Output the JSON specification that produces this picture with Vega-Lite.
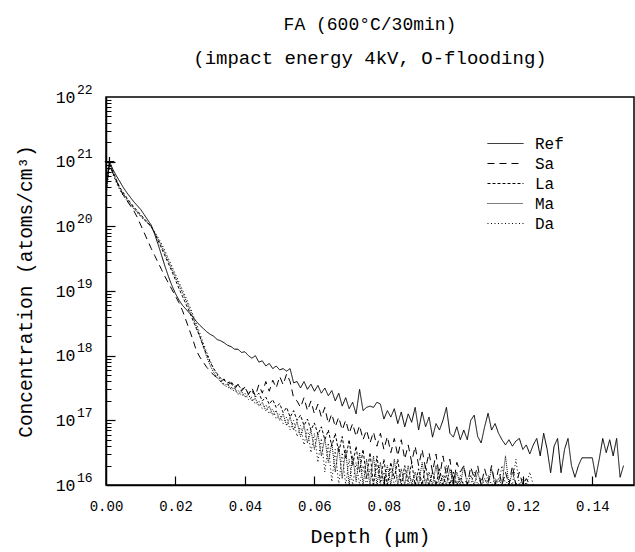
{
"$schema": "https://vega.github.io/schema/vega-lite/v6.json",
"width": 528, "height": 388,
"autosize": {"type": "none"},
"padding": {"left": 106, "top": 97, "right": 1, "bottom": 67},
"background": "white",
"title": {"text": "FA (600°C/30min)", "subtitle": "(impact energy 4kV, O-flooding)", "font": "Liberation Mono", "fontSize": 18, "fontWeight": "normal", "color": "black", "subtitleFont": "Liberation Mono", "subtitleFontSize": 19, "subtitleColor": "black", "subtitlePadding": 15, "offset": 15, "anchor": "middle"},
"config": {"view": {"stroke": "black", "strokeWidth": 1.5}, "font": "Liberation Mono"},
"data": {"values": [
{"d":0.000,"Ref":20.65,"Sa":20.65,"La":20.55,"Ma":20.5,"Da":20.45},
{"d":0.001,"Ref":21.0,"Sa":20.95,"La":20.98,"Ma":20.96,"Da":20.94},
{"d":0.002,"Ref":20.88,"Sa":20.82,"La":20.85,"Ma":20.83,"Da":20.8},
{"d":0.003,"Ref":20.78,"Sa":20.7,"La":20.72,"Ma":20.7,"Da":20.67},
{"d":0.004,"Ref":20.69,"Sa":20.58,"La":20.6,"Ma":20.58,"Da":20.56},
{"d":0.005,"Ref":20.6,"Sa":20.48,"La":20.52,"Ma":20.5,"Da":20.47},
{"d":0.006,"Ref":20.52,"Sa":20.4,"La":20.44,"Ma":20.42,"Da":20.4},
{"d":0.007,"Ref":20.45,"Sa":20.32,"La":20.37,"Ma":20.35,"Da":20.33},
{"d":0.008,"Ref":20.38,"Sa":20.24,"La":20.3,"Ma":20.28,"Da":20.27},
{"d":0.009,"Ref":20.32,"Sa":20.14,"La":20.24,"Ma":20.22,"Da":20.21},
{"d":0.010,"Ref":20.26,"Sa":20.02,"La":20.18,"Ma":20.16,"Da":20.15},
{"d":0.011,"Ref":20.18,"Sa":19.9,"La":20.12,"Ma":20.1,"Da":20.1},
{"d":0.012,"Ref":20.1,"Sa":19.78,"La":20.06,"Ma":20.05,"Da":20.05},
{"d":0.013,"Ref":20.02,"Sa":19.66,"La":20.0,"Ma":19.99,"Da":20.0},
{"d":0.014,"Ref":19.88,"Sa":19.55,"La":19.9,"Ma":19.9,"Da":19.92},
{"d":0.015,"Ref":19.72,"Sa":19.44,"La":19.78,"Ma":19.8,"Da":19.83},
{"d":0.016,"Ref":19.55,"Sa":19.33,"La":19.66,"Ma":19.7,"Da":19.73},
{"d":0.017,"Ref":19.38,"Sa":19.22,"La":19.54,"Ma":19.58,"Da":19.62},
{"d":0.018,"Ref":19.22,"Sa":19.12,"La":19.42,"Ma":19.46,"Da":19.5},
{"d":0.019,"Ref":19.08,"Sa":19.02,"La":19.3,"Ma":19.34,"Da":19.38},
{"d":0.020,"Ref":18.96,"Sa":18.92,"La":19.17,"Ma":19.22,"Da":19.26},
{"d":0.021,"Ref":18.86,"Sa":18.82,"La":19.04,"Ma":19.1,"Da":19.14},
{"d":0.022,"Ref":18.78,"Sa":18.7,"La":18.92,"Ma":18.98,"Da":19.02},
{"d":0.023,"Ref":18.72,"Sa":18.55,"La":18.8,"Ma":18.86,"Da":18.9},
{"d":0.024,"Ref":18.66,"Sa":18.4,"La":18.68,"Ma":18.73,"Da":18.78},
{"d":0.025,"Ref":18.6,"Sa":18.25,"La":18.55,"Ma":18.6,"Da":18.64},
{"d":0.026,"Ref":18.53,"Sa":18.08,"La":18.42,"Ma":18.45,"Da":18.5},
{"d":0.027,"Ref":18.47,"Sa":17.98,"La":18.3,"Ma":18.3,"Da":18.35},
{"d":0.028,"Ref":18.42,"Sa":17.9,"La":18.15,"Ma":18.14,"Da":18.2},
{"d":0.029,"Ref":18.37,"Sa":17.82,"La":18.02,"Ma":17.98,"Da":18.05},
{"d":0.030,"Ref":18.33,"Sa":17.76,"La":17.9,"Ma":17.85,"Da":17.92},
{"d":0.031,"Ref":18.3,"Sa":17.7,"La":17.8,"Ma":17.74,"Da":17.8},
{"d":0.032,"Ref":18.25,"Sa":17.66,"La":17.72,"Ma":17.66,"Da":17.7},
{"d":0.033,"Ref":18.23,"Sa":17.6,"La":17.65,"Ma":17.6,"Da":17.62},
{"d":0.034,"Ref":18.2,"Sa":17.64,"La":17.62,"Ma":17.54,"Da":17.56},
{"d":0.035,"Ref":18.16,"Sa":17.55,"La":17.58,"Ma":17.56,"Da":17.5},
{"d":0.036,"Ref":18.14,"Sa":17.58,"La":17.6,"Ma":17.48,"Da":17.52},
{"d":0.037,"Ref":18.1,"Sa":17.48,"La":17.52,"Ma":17.5,"Da":17.44},
{"d":0.038,"Ref":18.1,"Sa":17.56,"La":17.55,"Ma":17.4,"Da":17.47},
{"d":0.039,"Ref":18.05,"Sa":17.45,"La":17.48,"Ma":17.45,"Da":17.38},
{"d":0.040,"Ref":18.06,"Sa":17.52,"La":17.5,"Ma":17.36,"Da":17.42},
{"d":0.041,"Ref":18.0,"Sa":17.4,"La":17.42,"Ma":17.4,"Da":17.32},
{"d":0.042,"Ref":17.96,"Sa":17.5,"La":17.46,"Ma":17.3,"Da":17.36},
{"d":0.043,"Ref":18.0,"Sa":17.38,"La":17.36,"Ma":17.34,"Da":17.25},
{"d":0.044,"Ref":17.9,"Sa":17.55,"La":17.42,"Ma":17.22,"Da":17.3},
{"d":0.045,"Ref":17.92,"Sa":17.42,"La":17.3,"Ma":17.28,"Da":17.18},
{"d":0.046,"Ref":17.84,"Sa":17.6,"La":17.36,"Ma":17.15,"Da":17.24},
{"d":0.047,"Ref":17.88,"Sa":17.45,"La":17.25,"Ma":17.22,"Da":17.1},
{"d":0.048,"Ref":17.8,"Sa":17.62,"La":17.32,"Ma":17.08,"Da":17.18},
{"d":0.049,"Ref":17.84,"Sa":17.5,"La":17.2,"Ma":17.15,"Da":17.02},
{"d":0.050,"Ref":17.78,"Sa":17.68,"La":17.26,"Ma":17.0,"Da":17.1},
{"d":0.051,"Ref":17.8,"Sa":17.55,"La":17.12,"Ma":17.1,"Da":16.95},
{"d":0.052,"Ref":17.76,"Sa":17.72,"La":17.2,"Ma":16.92,"Da":17.05},
{"d":0.053,"Ref":17.8,"Sa":17.6,"La":17.05,"Ma":17.05,"Da":16.85},
{"d":0.054,"Ref":17.58,"Sa":17.35,"La":17.15,"Ma":16.85,"Da":17.0},
{"d":0.055,"Ref":17.6,"Sa":17.3,"La":17.0,"Ma":16.98,"Da":16.75},
{"d":0.056,"Ref":17.5,"Sa":17.2,"La":17.08,"Ma":16.75,"Da":16.92},
{"d":0.057,"Ref":17.6,"Sa":17.35,"La":16.92,"Ma":16.92,"Da":16.62},
{"d":0.058,"Ref":17.48,"Sa":17.15,"La":17.02,"Ma":16.65,"Da":16.88},
{"d":0.059,"Ref":17.56,"Sa":17.3,"La":16.85,"Ma":16.85,"Da":16.5},
{"d":0.060,"Ref":17.45,"Sa":17.1,"La":16.96,"Ma":16.55,"Da":16.8},
{"d":0.061,"Ref":17.54,"Sa":17.25,"La":16.78,"Ma":16.8,"Da":16.35},
{"d":0.062,"Ref":17.42,"Sa":17.05,"La":16.9,"Ma":16.45,"Da":16.72},
{"d":0.063,"Ref":17.5,"Sa":17.2,"La":16.7,"Ma":16.72,"Da":16.2},
{"d":0.064,"Ref":17.38,"Sa":16.95,"La":16.85,"Ma":16.35,"Da":16.65},
{"d":0.065,"Ref":17.46,"Sa":17.1,"La":16.6,"Ma":16.65,"Da":16.05},
{"d":0.066,"Ref":17.3,"Sa":16.9,"La":16.8,"Ma":16.2,"Da":16.55},
{"d":0.067,"Ref":17.42,"Sa":17.05,"La":16.5,"Ma":16.6,"Da":16.0},
{"d":0.068,"Ref":17.22,"Sa":16.85,"La":16.75,"Ma":16.1,"Da":16.5},
{"d":0.069,"Ref":17.35,"Sa":17.0,"La":16.4,"Ma":16.55,"Da":16.0},
{"d":0.070,"Ref":17.18,"Sa":16.8,"La":16.7,"Ma":16.0,"Da":16.4},
{"d":0.071,"Ref":17.28,"Sa":16.95,"La":16.3,"Ma":16.45,"Da":16.0},
{"d":0.072,"Ref":17.1,"Sa":16.75,"La":16.6,"Ma":16.05,"Da":16.35},
{"d":0.073,"Ref":17.48,"Sa":16.92,"La":16.2,"Ma":16.5,"Da":16.0},
{"d":0.074,"Ref":17.15,"Sa":16.7,"La":16.55,"Ma":16.0,"Da":16.3},
{"d":0.075,"Ref":17.2,"Sa":16.85,"La":16.1,"Ma":16.4,"Da":16.0},
{"d":0.076,"Ref":17.22,"Sa":16.65,"La":16.5,"Ma":16.0,"Da":16.25},
{"d":0.077,"Ref":17.2,"Sa":16.82,"La":16.0,"Ma":16.45,"Da":16.0},
{"d":0.078,"Ref":17.28,"Sa":16.6,"La":16.45,"Ma":16.0,"Da":16.3},
{"d":0.079,"Ref":17.25,"Sa":16.8,"La":16.05,"Ma":16.35,"Da":16.0},
{"d":0.080,"Ref":17.02,"Sa":16.55,"La":16.4,"Ma":16.0,"Da":16.2},
{"d":0.081,"Ref":17.15,"Sa":16.75,"La":16.0,"Ma":16.3,"Da":16.0},
{"d":0.082,"Ref":17.05,"Sa":16.5,"La":16.35,"Ma":16.0,"Da":16.25},
{"d":0.083,"Ref":17.18,"Sa":16.72,"La":16.1,"Ma":16.4,"Da":16.0},
{"d":0.084,"Ref":16.95,"Sa":16.45,"La":16.4,"Ma":16.0,"Da":16.15},
{"d":0.085,"Ref":17.13,"Sa":16.7,"La":16.0,"Ma":16.25,"Da":16.0},
{"d":0.086,"Ref":16.9,"Sa":16.4,"La":16.3,"Ma":16.0,"Da":16.2},
{"d":0.087,"Ref":17.1,"Sa":16.62,"La":16.05,"Ma":16.3,"Da":16.0},
{"d":0.088,"Ref":16.97,"Sa":16.35,"La":16.35,"Ma":16.0,"Da":16.1},
{"d":0.089,"Ref":17.2,"Sa":16.6,"La":16.0,"Ma":16.2,"Da":16.0},
{"d":0.090,"Ref":16.85,"Sa":16.3,"La":16.25,"Ma":16.0,"Da":16.15},
{"d":0.091,"Ref":17.13,"Sa":16.55,"La":16.0,"Ma":16.35,"Da":16.0},
{"d":0.092,"Ref":16.9,"Sa":16.25,"La":16.3,"Ma":16.0,"Da":16.1},
{"d":0.093,"Ref":17.05,"Sa":16.5,"La":16.0,"Ma":16.2,"Da":16.0},
{"d":0.094,"Ref":16.74,"Sa":16.2,"La":16.2,"Ma":16.0,"Da":16.2},
{"d":0.095,"Ref":16.95,"Sa":16.48,"La":16.0,"Ma":16.3,"Da":16.0},
{"d":0.096,"Ref":16.85,"Sa":16.1,"La":16.25,"Ma":16.0,"Da":16.1},
{"d":0.097,"Ref":17.0,"Sa":16.45,"La":16.0,"Ma":16.15,"Da":16.0},
{"d":0.098,"Ref":17.2,"Sa":16.15,"La":16.15,"Ma":16.0,"Da":16.3},
{"d":0.099,"Ref":16.8,"Sa":16.4,"La":16.0,"Ma":16.25,"Da":16.0},
{"d":0.100,"Ref":16.74,"Sa":16.0,"La":16.2,"Ma":16.0,"Da":16.1},
{"d":0.101,"Ref":16.9,"Sa":16.35,"La":16.0,"Ma":16.2,"Da":16.0},
{"d":0.102,"Ref":16.7,"Sa":16.2,"La":16.1,"Ma":16.0,"Da":16.15},
{"d":0.103,"Ref":16.85,"Sa":16.3,"La":16.0,"Ma":16.3,"Da":16.0},
{"d":0.104,"Ref":16.7,"Sa":16.0,"Ma":16.0,"Da":16.1},
{"d":0.105,"Ref":17.0,"Sa":16.28,"Ma":16.15,"Da":16.0},
{"d":0.106,"Ref":17.08,"Sa":16.1,"Ma":16.0,"Da":16.2},
{"d":0.107,"Ref":16.75,"Sa":16.3,"Ma":16.2,"Da":16.0},
{"d":0.108,"Ref":16.65,"Sa":16.0,"Ma":16.0,"Da":16.1},
{"d":0.109,"Ref":16.9,"Sa":16.25,"Ma":16.1,"Da":16.0},
{"d":0.110,"Ref":17.11,"Sa":16.05,"Ma":16.0,"Da":16.15},
{"d":0.111,"Ref":16.85,"Sa":16.3,"Ma":16.25,"Da":16.0},
{"d":0.112,"Ref":16.95,"Sa":16.0,"Ma":16.0,"Da":16.1},
{"d":0.113,"Ref":16.8,"Sa":16.25,"Ma":16.1,"Da":16.0},
{"d":0.114,"Ref":16.7,"Sa":16.0,"Ma":16.0,"Da":16.3},
{"d":0.115,"Ref":16.62,"Sa":16.2,"Ma":16.45,"Da":16.0},
{"d":0.116,"Ref":16.7,"Sa":16.0,"Ma":16.0,"Da":16.1},
{"d":0.117,"Ref":16.6,"Sa":16.3,"Ma":16.2,"Da":16.0},
{"d":0.118,"Ref":16.68,"Sa":16.0,"Ma":16.0,"Da":16.4},
{"d":0.119,"Ref":16.72,"Sa":16.2,"Da":16.0},
{"d":0.120,"Ref":16.55,"Sa":16.0,"Da":16.1},
{"d":0.121,"Ref":16.62,"Sa":16.1,"Da":16.0},
{"d":0.122,"Ref":16.48,"Sa":16.0,"Da":16.2},
{"d":0.123,"Ref":16.62,"Da":16.0},
{"d":0.124,"Ref":16.72},
{"d":0.125,"Ref":16.45},
{"d":0.126,"Ref":16.8},
{"d":0.127,"Ref":16.55},
{"d":0.128,"Ref":16.19},
{"d":0.129,"Ref":16.6},
{"d":0.130,"Ref":16.72},
{"d":0.131,"Ref":16.19},
{"d":0.132,"Ref":16.55},
{"d":0.133,"Ref":16.72},
{"d":0.134,"Ref":16.3},
{"d":0.135,"Ref":16.12},
{"d":0.136,"Ref":16.3},
{"d":0.137,"Ref":16.42},
{"d":0.138,"Ref":16.42},
{"d":0.139,"Ref":16.42},
{"d":0.140,"Ref":16.42},
{"d":0.141,"Ref":16.12},
{"d":0.142,"Ref":16.4},
{"d":0.143,"Ref":16.72},
{"d":0.144,"Ref":16.5},
{"d":0.145,"Ref":16.7},
{"d":0.146,"Ref":16.45},
{"d":0.147,"Ref":16.72},
{"d":0.148,"Ref":16.12},
{"d":0.149,"Ref":16.3}
]},
"transform": [
  {"fold": ["Ref", "Sa", "La", "Ma", "Da"], "as": ["series", "logC"]},
  {"filter": "isValid(datum.logC)"}
],
"layer": [
  {
    "mark": {"type": "line", "strokeWidth": 1, "color": "black", "clip": true},
    "encoding": {
      "x": {"field": "d", "type": "quantitative", "title": "Depth (μm)",
        "scale": {"domain": [0, 0.152], "nice": false, "zero": false},
        "axis": {"orient": "bottom", "values": [0, 0.02, 0.04, 0.06, 0.08, 0.1, 0.12, 0.14], "format": ".2f", "grid": false, "ticks": false,
          "domainColor": "black", "domainWidth": 1.5, "labelPadding": 14, "labelFlush": false,
          "labelFont": "Liberation Mono", "labelFontSize": 14, "labelColor": "black",
          "titleFont": "Liberation Mono", "titleFontSize": 20, "titleFontWeight": "normal", "titleColor": "black", "titlePadding": 13}},
      "y": {"field": "logC", "type": "quantitative", "title": "Concentration (atoms/cm³)",
        "scale": {"domain": [16, 22], "nice": false, "zero": false},
        "axis": {"orient": "left", "values": [16, 17, 18, 19, 20, 21, 22],
          "labelExpr": "'10'", "ticks": false,
          "grid": false, "domainColor": "black", "domainWidth": 1.5,
          "labelPadding": 31, "labelFont": "Liberation Mono", "labelFontSize": 16.5, "labelColor": "black", "labelOverlap": false,
          "titleFont": "Liberation Mono", "titleFontSize": 19.5, "titleFontWeight": "normal", "titleColor": "black", "titlePadding": 20}},
      "strokeDash": {"field": "series", "type": "nominal",
        "scale": {"domain": ["Ref", "Sa", "La", "Ma", "Da"], "range": [[1, 0], [7, 5], [3, 2], [1, 1], [1, 2.5]]},
        "legend": {"orient": "none", "legendX": 390, "legendY": 37, "title": null, "padding": 0,
          "symbolType": "M-2.08,0H2.08", "symbolSize": 300, "symbolStrokeColor": "black", "symbolFillColor": "transparent", "symbolStrokeWidth": 1,
          "labelFont": "Liberation Mono", "labelFontSize": 16, "labelColor": "black", "labelOffset": 20, "rowPadding": 2}}
    }
  },
  {
    "mark": {"type": "point", "opacity": 0},
    "encoding": {
      "y": {"field": "logC", "type": "quantitative",
        "axis": {"orient": "left", "values": [16, 17, 18, 19, 20, 21, 22], "labelExpr": "format(datum.value, 'd')",
          "title": null, "ticks": false, "domain": false, "grid": false, "labelPadding": 14, "labelOffset": -8,
          "labelFont": "Liberation Mono", "labelFontSize": 13, "labelColor": "black", "labelOverlap": false}}
    }
  },
  {
    "mark": {"type": "point", "opacity": 0},
    "encoding": {
      "x": {"field": "d", "type": "quantitative",
        "axis": {"orient": "bottom", "offset": -9, "values": [0.02, 0.04, 0.06, 0.08, 0.1, 0.12, 0.14], "labels": false, "domain": false, "grid": false,
          "title": null, "ticks": true, "tickSize": 9, "tickWidth": 1.2, "tickColor": "black"}},
      "y": {"field": "logC", "type": "quantitative",
        "axis": {"orient": "left", "offset": -9, "values": [17, 18, 19, 20, 21], "labels": false, "domain": false, "grid": false,
          "title": null, "ticks": true, "tickSize": 9, "tickWidth": 1.2, "tickColor": "black"}}
    }
  },
  {
    "mark": {"type": "point", "opacity": 0},
    "encoding": {
      "y": {"field": "logC", "type": "quantitative",
        "axis": {"orient": "left", "offset": -5,
          "values": [16.301, 16.4771, 16.6021, 16.699, 16.7782, 16.8451, 16.9031, 16.9542,
                     17.301, 17.4771, 17.6021, 17.699, 17.7782, 17.8451, 17.9031, 17.9542,
                     18.301, 18.4771, 18.6021, 18.699, 18.7782, 18.8451, 18.9031, 18.9542,
                     19.301, 19.4771, 19.6021, 19.699, 19.7782, 19.8451, 19.9031, 19.9542,
                     20.301, 20.4771, 20.6021, 20.699, 20.7782, 20.8451, 20.9031, 20.9542,
                     21.301, 21.4771, 21.6021, 21.699, 21.7782, 21.8451, 21.9031, 21.9542],
          "labels": false, "domain": false, "grid": false, "title": null, "ticks": true, "tickSize": 5, "tickWidth": 1, "tickColor": "black"}}
    }
  },
  {
    "transform": [{"filter": "datum.series == 'Ref' && datum.d == 0.001"}],
    "mark": {"type": "point", "shape": "M-1,0H1M0,-1V1", "filled": false, "stroke": "black", "strokeWidth": 1.2, "size": 90, "opacity": 1},
    "encoding": {
      "x": {"field": "d", "type": "quantitative", "axis": null},
      "y": {"field": "logC", "type": "quantitative", "axis": null}
    }
  }
],
"resolve": {"axis": {"x": "independent", "y": "independent"}}
}
